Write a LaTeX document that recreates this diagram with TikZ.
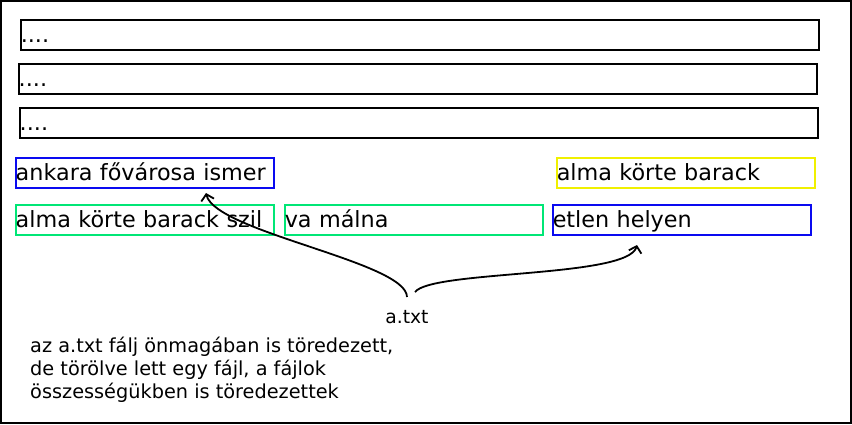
\documentclass[tikz,border=0pt]{standalone}
\usepackage{fontspec}
\setmainfont{DejaVu Sans}
\usetikzlibrary{arrows.meta}
\definecolor{fgreen}{RGB}{0,230,118}
\definecolor{fblue}{RGB}{10,10,240}
\definecolor{fyellow}{RGB}{240,240,0}
\tikzset{
  bigtxt/.style={font=\fontsize{22.3}{26}\selectfont},
  fragbox/.style={draw, line width=1.5pt, anchor=north west, inner xsep=0pt, inner ysep=0pt,
    minimum height=30pt, text height=20pt, text depth=5pt, align=left, bigtxt},
  blackbox/.style={fragbox, draw=black, text width=798pt},
  colbox/.style={fragbox, text width=258pt},
  arr/.style={line width=1.8pt, -{Straight Barb[length=6pt,width=13pt]}},
}
\begin{document}
\begin{tikzpicture}[x=1pt,y=-1pt]
\useasboundingbox (0,0) rectangle (852,424);
\draw[line width=2pt] (1,1) rectangle (851,423);
\node[blackbox] (b1) at (20,19) {....};
\node[blackbox] (b2) at (18,63) {....};
\node[blackbox] (b3) at (19,107) {....};
\node[colbox, draw=fblue] (ank) at (15,157) {ankara fővárosa ismer};
\node[colbox, draw=fyellow] (alm2) at (556,157) {alma körte barack};
\node[colbox, draw=fgreen] (alm1) at (15,204) {alma körte barack szil};
\node[colbox, draw=fgreen] (mal) at (284,204) {va málna};
\node[colbox, draw=fblue] (etl) at (552,204) {etlen helyen};
\node[anchor=base, inner sep=0pt, font=\fontsize{18.7}{23}\selectfont] (atxt) at (407,323) {a.txt};
\node[anchor=base west, inner sep=0pt, align=left, font=\fontsize{19.3}{23}\selectfont] (note) at (30,398)
  {az a.txt fálj önmagában is töredezett,\\de törölve lett egy fájl, a fájlok\\összességükben is töredezettek};
\coordinate (s1) at (407,297);
\coordinate (s2) at (415,292);
\coordinate (e1) at (206,193);
\coordinate (e2) at (637,245);
\draw[arr] (s1) .. controls (407,262) and (215,232) .. (e1);
\draw[arr] (s2) .. controls (432,270) and (628,278) .. (e2);
\end{tikzpicture}
\end{document}
